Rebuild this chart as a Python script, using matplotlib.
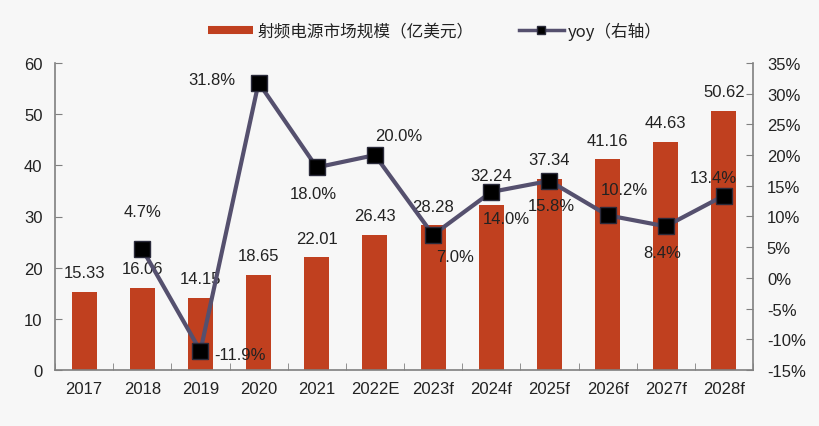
import matplotlib
matplotlib.use("Agg")
import matplotlib.pyplot as plt
from matplotlib.lines import Line2D
import numpy as np

plt.rcParams['font.family'] = ['Liberation Sans', 'Noto Sans CJK SC', 'DejaVu Sans']

categories = ["2017", "2018", "2019", "2020", "2021", "2022E", "2023f", "2024f",
              "2025f", "2026f", "2027f", "2028f"]
market = [15.33, 16.06, 14.15, 18.65, 22.01, 26.43, 28.28, 32.24, 37.34, 41.16, 44.63, 50.62]
yoy_cats = categories[1:]
yoy = [4.7, -11.9, 31.8, 18.0, 20.0, 7.0, 14.0, 15.8, 10.2, 8.4, 13.4]
bar_label = "射频电源市场规模（亿美元）"
line_label = "yoy（右轴）"

bar_color = "#C0401F"
line_color = "#55506E"
bg = "#F7F7F7"
spine_c = "#808080"
txt_c = "#222222"
FS = 12

fig = plt.figure(figsize=(8.19, 4.27), dpi=100, facecolor=bg)
ax = fig.add_axes([55/819, 1 - 371/427, (753-55)/819, (371-64)/427])
ax.set_facecolor(bg)
x = np.arange(len(categories))
ax.bar(x, market, width=0.43, color=bar_color, zorder=2)
ax.set_xlim(-0.5, len(categories) - 0.5)
ax.set_ylim(0, 60)
ax.set_yticks(np.arange(0, 61, 10))
ax.set_xticks(x)
ax.set_xticklabels(categories)
ax.set_xticks(np.arange(-0.5, len(categories), 1), minor=True)
ax.tick_params(axis='x', which='major', length=0, pad=8, labelsize=FS, labelcolor=txt_c)
ax.tick_params(axis='x', which='minor', length=5, direction='in', color=spine_c)
ax.tick_params(axis='y', direction='in', length=5, color=spine_c, labelsize=FS,
               pad=9, labelcolor=txt_c)
for s in ['top', 'right']:
    ax.spines[s].set_visible(False)
for s in ['left', 'bottom']:
    ax.spines[s].set_color(spine_c)
    ax.spines[s].set_linewidth(1.2)

# bar value labels (pixel offsets of label centre from bar top)
bar_off = {c: (0, 19) for c in categories}
bar_off["2024f"] = (0, 30)
for c, xi, v in zip(categories, x, market):
    dx, dy = bar_off[c]
    ax.annotate(f"{v:.2f}", (xi, v), xytext=(dx, dy), textcoords='offset pixels',
                ha='center', va='center', fontsize=FS, color=txt_c, zorder=5)

ax2 = ax.twinx()
ax2.set_ylim(-15, 35)
ax2.set_yticks(np.arange(-15, 36, 5))
ax2.set_yticklabels([f"{t}%" for t in range(-15, 36, 5)])
ax2.tick_params(axis='y', direction='in', length=5, color=spine_c, labelsize=FS,
                pad=10, labelcolor=txt_c)
for s in ['top', 'left', 'bottom']:
    ax2.spines[s].set_visible(False)
ax2.spines['right'].set_color(spine_c)
ax2.spines['right'].set_linewidth(1.2)
xl = x[1:]
ax2.plot(xl, yoy, color=line_color, lw=3, marker='s', markersize=12,
         markerfacecolor='black', markeredgecolor='#2a2a3a', zorder=4)

# pixel offsets (dx, dy) of label centre from marker
offsets = {
    "2018": (0, 38),
    "2019": (40, -4),
    "2020": (-47, 3),
    "2021": (-3, -26),
    "2022E": (24, 20),
    "2023f": (22, -22),
    "2024f": (15, -27),
    "2025f": (2, -25),
    "2026f": (17, 26),
    "2027f": (-4, -26),
    "2028f": (-11, 18),
}
for c, xi, v in zip(yoy_cats, xl, yoy):
    dx, dy = offsets[c]
    ax2.annotate(f"{v:.1f}%", (xi, v), xytext=(dx, dy), textcoords='offset pixels',
                 ha='center', va='center', fontsize=FS, color=txt_c, zorder=6)

bh = Line2D([0], [0], color=bar_color, lw=5.8, solid_capstyle='butt')
lh = Line2D([0], [0], color=line_color, lw=2.5, marker='s', markersize=6,
            markerfacecolor='black', markeredgecolor='#2a2a3a')
fig.legend([bh, lh], [bar_label, line_label], loc='center',
           bbox_to_anchor=(435/819, 1 - 32/427), ncol=2, frameon=False,
           handlelength=2.7, columnspacing=2.7, handletextpad=0.25,
           labelcolor=txt_c,
           prop={'family': ['Noto Sans CJK SC', 'DejaVu Sans'], 'size': 12})

fig.savefig("out.png", dpi=100, facecolor=bg)
